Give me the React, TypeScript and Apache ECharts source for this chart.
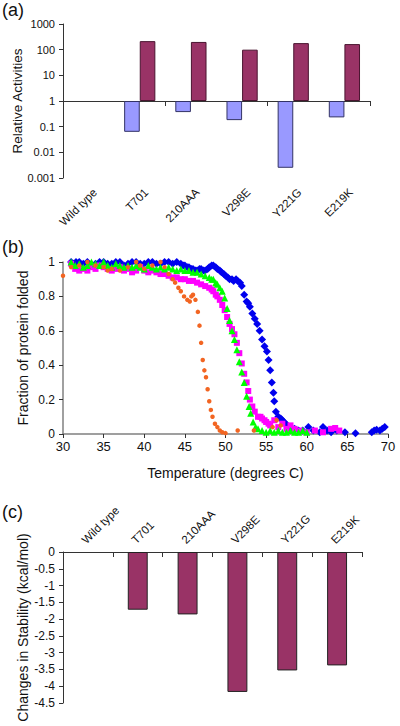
import React, { useEffect, useRef } from 'react';
import * as echarts from 'echarts';

const mutants = ['Wild type', 'T701', '210AAA', 'V298E', 'Y221G', 'E219K'];
const activityLow = [1, 0.063, 0.37, 0.18, 0.0025, 0.23];
const activityHigh = [1, 215, 200, 100, 180, 165];
const stabilityChange = [0, -1.72, -1.86, -4.17, -3.53, -3.38];

const meltBlue = [
  [31, 1.0], [31.3, 0.99], [31.6, 1.0], [32, 1.0], [32.5, 0.99], [33, 1.0], [33.5, 0.98], [34, 0.99], [34.5, 1.0], [35, 1.0], [35.5, 0.99],
  [36, 0.99], [36.5, 1.0], [37, 1.0], [37.5, 0.98], [38, 0.99], [38.5, 1.0], [39, 1.0], [39.5, 0.99], [40, 0.99], [40.5, 1.0],
  [41, 1.0], [41.5, 0.99], [42, 0.99], [42.5, 1.0], [43, 1.0], [43.5, 0.99], [44, 1.0], [44.5, 0.99], [44.8, 0.98], [45, 0.98], [45.3, 0.97], [45.5, 0.97],
  [45.8, 0.96], [46, 0.96], [46.3, 0.95], [46.5, 0.95], [46.8, 0.96], [47, 0.96], [47.3, 0.95], [47.5, 0.95], [47.8, 0.96], [48, 0.97], [48.3, 0.98], [48.5, 0.98], [48.8, 0.97], [49, 0.96], [49.3, 0.95], [49.5, 0.94], [49.8, 0.93], [50, 0.92], [50.3, 0.91], [50.5, 0.9],
  [50.8, 0.9], [51, 0.89], [51.3, 0.9], [51.5, 0.89], [51.8, 0.88], [52, 0.86], [52.3, 0.81], [52.6, 0.77], [52.8, 0.76], [53, 0.74], [53.3, 0.7], [53.6, 0.67], [53.9, 0.64], [54.2, 0.6],
  [54.5, 0.55], [54.8, 0.51], [55.1, 0.48], [55.3, 0.43], [55.5, 0.37], [55.7, 0.3], [55.9, 0.24], [56, 0.19], [56.2, 0.13], [56.5, 0.1],
  [56.8, 0.09], [57, 0.08], [57.2, 0.07], [57.4, 0.06], [57.6, 0.05], [58, 0.04], [58.5, 0.03], [59, 0.02], [59.5, 0.02], [60.2, 0.04], [60.8, 0.02], [61.6, 0.01],
  [62, 0.04], [62.5, 0.02], [63, 0.01], [63.7, 0.02], [64.7, 0.01], [66, 0.005], [68, 0.01], [68.3, 0.02], [68.6, 0.025], [69, 0.02],
  [69.3, 0.03], [69.6, 0.04],
];

const meltMagenta = [
  [31, 0.99], [31.5, 0.96], [32, 0.95], [32.5, 0.96], [33, 0.95], [33.5, 0.97], [34, 0.96], [34.5, 0.98], [35, 0.97], [35.5, 0.96],
  [36, 0.95], [36.5, 0.96], [37, 0.97], [37.5, 0.95], [38, 0.96], [38.5, 0.94], [39, 0.95], [39.5, 0.97], [40, 0.95], [40.5, 0.94],
  [41, 0.95], [41.5, 0.94], [42, 0.93], [42.5, 0.93], [43, 0.92], [43.5, 0.91], [44, 0.91], [44.5, 0.9], [45, 0.9], [45.5, 0.89],
  [46, 0.89], [46.5, 0.88], [47, 0.87], [47.5, 0.86], [48, 0.85], [48.3, 0.84], [48.5, 0.83], [48.8, 0.81], [49, 0.8], [49.3, 0.78], [49.6, 0.75], [49.9, 0.72],
  [50.2, 0.68], [50.5, 0.64], [50.8, 0.61], [51.1, 0.58], [51.4, 0.53], [51.7, 0.47], [52, 0.41], [52.3, 0.35], [52.6, 0.3], [52.8, 0.25],
  [53, 0.2], [53.3, 0.16], [53.6, 0.13], [54, 0.1], [54.3, 0.1], [54.5, 0.09], [54.8, 0.08], [55, 0.07], [55.3, 0.06], [55.5, 0.05], [56, 0.08], [56.5, 0.04], [57, 0.06],
  [57.5, 0.03], [58, 0.05], [58.5, 0.03], [59.2, 0.02], [60, 0.01], [61, 0.02], [62, 0.01], [63, 0.03], [63.5, 0.035], [64, 0.02],
];

const meltGreen = [
  [31, 1.0], [31.5, 0.98], [32, 0.99], [32.5, 0.97], [33, 0.98], [33.5, 1.0], [34, 0.99], [34.5, 0.98], [35, 1.0], [35.5, 0.98],
  [36, 0.97], [36.5, 0.99], [37, 0.98], [37.5, 0.97], [38, 0.98], [38.5, 0.97], [39, 0.98], [39.5, 0.97], [40, 0.96], [40.5, 0.98],
  [41, 0.97], [41.5, 0.96], [42, 0.97], [42.5, 0.96], [43, 0.97], [43.5, 0.96], [44, 0.95], [44.5, 0.96], [45, 0.95], [45.5, 0.95],
  [46, 0.94], [46.5, 0.94], [47, 0.93], [47.5, 0.92], [48, 0.91], [48.3, 0.9], [48.5, 0.9], [48.8, 0.88], [49, 0.87], [49.3, 0.85], [49.6, 0.83], [49.9, 0.79],
  [50.2, 0.73], [50.5, 0.66], [50.8, 0.6], [51.1, 0.55], [51.4, 0.49], [51.7, 0.42], [52, 0.36], [52.3, 0.3], [52.6, 0.22], [52.9, 0.16],
  [53.1, 0.12], [53.4, 0.07], [53.7, 0.04], [54, 0.03], [54.5, 0.02], [55, 0.01], [55.5, 0.02], [56, 0.01], [56.5, 0.02], [57, 0.01],
  [57.5, 0.01], [58, 0.02], [58.5, 0.01], [59, 0.01], [59.5, 0.02], [60, 0.01],
];

const meltOrange = [
  [30, 0.92], [31, 0.97], [32, 0.98], [33, 1.0], [34, 0.98], [35, 0.97], [35.5, 0.95], [36, 0.96], [37, 0.95], [38, 0.97],
  [39, 1.0], [39.5, 0.98], [40, 0.96], [41, 0.98], [42, 1.0], [42.5, 0.97], [43, 0.93], [43.5, 0.9], [43.8, 0.88], [44.2, 0.85],
  [44.5, 0.83], [44.9, 0.8], [45.3, 0.78], [45.6, 0.77], [45.8, 0.8], [46, 0.81], [46.3, 0.78], [46.6, 0.71], [46.8, 0.63], [47, 0.53],
  [47.2, 0.43], [47.4, 0.37], [47.6, 0.33], [47.8, 0.26], [48, 0.19], [48.2, 0.14], [48.4, 0.1], [48.7, 0.06], [49, 0.04], [49.3, 0.02],
  [49.6, 0.01], [50, 0.005], [51.5, 0.02], [53.5, 0.02], [55.8, 0.04], [56.3, 0.08], [56.8, 0.05],
];

const FONT = '"Liberation Sans", Arial, sans-serif';

// a bar whose value sits on the baseline is drawn without an outline
const hideFlat = (vals: number[], base: number) =>
  vals.map((v) => (v === base ? { value: v, itemStyle: { borderWidth: 0, opacity: 0 } } : v));

export default function App() {
  const ref = useRef<HTMLDivElement>(null);
  useEffect(() => {
    if (!ref.current) return;
    const chart = echarts.init(ref.current, null, { renderer: 'svg' });
    const dark = '#333';
    const gray = '#808080';
    const labelStyle = { color: '#111', fontSize: 11, fontFamily: FONT };
    const nameStyle = { color: '#111', fontSize: 14, fontFamily: FONT };
    const gridA = { left: 63, top: 24, width: 307, height: 154, outerBoundsMode: 'none' };
    const gridB = { left: 63, top: 262, width: 325, height: 172, outerBoundsMode: 'none' };
    const gridC = { left: 63, top: 552, width: 299, height: 151, outerBoundsMode: 'none' };
    chart.setOption({
      animation: false,
      textStyle: { fontFamily: FONT },
      grid: [gridA, gridB, gridC],
      graphic: [
        { type: 'text', left: 2, top: 1, style: { text: '(a)', fontSize: 18, fontFamily: FONT, fill: '#111' } },
        { type: 'text', left: 2, top: 238, style: { text: '(b)', fontSize: 18, fontFamily: FONT, fill: '#111' } },
        { type: 'text', left: 2, top: 503, style: { text: '(c)', fontSize: 18, fontFamily: FONT, fill: '#111' } },
      ],
      xAxis: [
        {
          gridIndex: 0, type: 'category', data: mutants, position: 'bottom',
          axisLine: { show: false }, axisTick: { show: false },
          axisLabel: {
            ...labelStyle, fontSize: 11.5, rotate: 45, margin: 6, interval: 0,
            verticalAlign: 'top', padding: [3, 0, 0, 0],
          },
        },
        {
          gridIndex: 0, type: 'category', data: mutants, position: 'bottom', offset: -77,
          axisLine: { show: true, onZero: false, lineStyle: { color: dark, width: 1 } },
          axisTick: { show: true, length: 5, lineStyle: { color: dark } },
          axisLabel: { show: false },
        },
        {
          gridIndex: 1, type: 'value', min: 30, max: 70, interval: 5,
          axisLine: { show: true, onZero: false, lineStyle: { color: gray, width: 1.5 } },
          axisTick: { show: true, length: 4, lineStyle: { color: dark } },
          axisLabel: { ...labelStyle, fontSize: 13, margin: 6 },
          splitLine: { show: false },
          name: 'Temperature (degrees C)', nameLocation: 'middle', nameGap: 32,
          nameTextStyle: { ...nameStyle, fontSize: 14 },
        },
        {
          gridIndex: 2, type: 'category', data: mutants, position: 'top',
          axisLine: { show: true, onZero: false, lineStyle: { color: dark, width: 1 } },
          axisTick: { show: true, length: 5, inside: true, lineStyle: { color: dark } },
          axisLabel: { ...labelStyle, fontSize: 11.5, rotate: -45, margin: 6, interval: 0, verticalAlign: 'bottom' },
        },
      ],
      yAxis: [
        {
          gridIndex: 0, type: 'log', logBase: 10, min: 0.001, max: 1000, splitNumber: 6,
          axisLine: { show: true, lineStyle: { color: dark, width: 1 } },
          axisTick: { show: true, length: 4, lineStyle: { color: dark } },
          axisLabel: { ...labelStyle, formatter: (v: number) => String(Number(v.toPrecision(2))) },
          splitLine: { show: false },
          name: 'Relative Activities', nameLocation: 'middle', nameGap: 39, nameMoveOverlap: false,
          nameTextStyle: { ...nameStyle, fontSize: 13.5 },
        },
        {
          gridIndex: 1, type: 'value', min: 0, max: 1, interval: 0.2,
          axisLine: { show: true, lineStyle: { color: gray, width: 1.5 } },
          axisTick: { show: true, length: 4, lineStyle: { color: dark } },
          axisLabel: { ...labelStyle, fontSize: 12 },
          splitLine: { show: false },
          name: 'Fraction of protein folded', nameLocation: 'middle', nameGap: 33, nameMoveOverlap: false,
          nameTextStyle: { ...nameStyle, fontSize: 14 },
        },
        {
          gridIndex: 2, type: 'value', min: -4.5, max: 0, interval: 0.5,
          axisLine: { show: true, lineStyle: { color: dark, width: 1 } },
          axisTick: { show: true, length: 4, lineStyle: { color: dark } },
          axisLabel: { ...labelStyle, fontSize: 12 },
          splitLine: { show: false },
          name: 'Changes in Stability (kcal/mol)', nameLocation: 'middle', nameGap: 33, nameMoveOverlap: false,
          nameTextStyle: { ...nameStyle, fontSize: 14 },
        },
      ],
      series: [
        {
          type: 'bar', xAxisIndex: 0, yAxisIndex: 0, data: hideFlat(activityLow, 1), barGap: '0%', barCategoryGap: '39%',
          itemStyle: { color: '#9999ff', borderColor: '#333366', borderWidth: 1 },
        },
        {
          type: 'bar', xAxisIndex: 0, yAxisIndex: 0, data: hideFlat(activityHigh, 1), barGap: '0%', barCategoryGap: '39%',
          itemStyle: { color: '#993366', borderColor: '#4a1530', borderWidth: 1 },
        },
        {
          type: 'scatter', xAxisIndex: 2, yAxisIndex: 1, data: meltBlue, symbol: 'diamond', symbolSize: 8,
          itemStyle: { color: '#0000ee', opacity: 1 },
        },
        {
          type: 'scatter', xAxisIndex: 2, yAxisIndex: 1, data: meltMagenta, symbol: 'rect', symbolSize: 6,
          itemStyle: { color: '#ff00ff', opacity: 1 },
        },
        {
          type: 'scatter', xAxisIndex: 2, yAxisIndex: 1, data: meltGreen, symbol: 'triangle', symbolSize: 7,
          itemStyle: { color: '#00ff00', opacity: 1 },
        },
        {
          type: 'scatter', xAxisIndex: 2, yAxisIndex: 1, data: meltOrange, symbol: 'circle', symbolSize: 4.5,
          itemStyle: { color: '#f26522', opacity: 1 },
        },
        {
          type: 'bar', xAxisIndex: 3, yAxisIndex: 2, data: hideFlat(stabilityChange, 0), barWidth: '40%',
          itemStyle: { color: '#993366', borderColor: '#222', borderWidth: 1 },
        },
      ],
    });
    return () => chart.dispose();
  }, []);
  return (
    <div
      ref={ref}
      style={{ position: 'fixed', left: 0, top: 0, width: 400, height: 726, background: '#fff' }}
    />
  );
}
